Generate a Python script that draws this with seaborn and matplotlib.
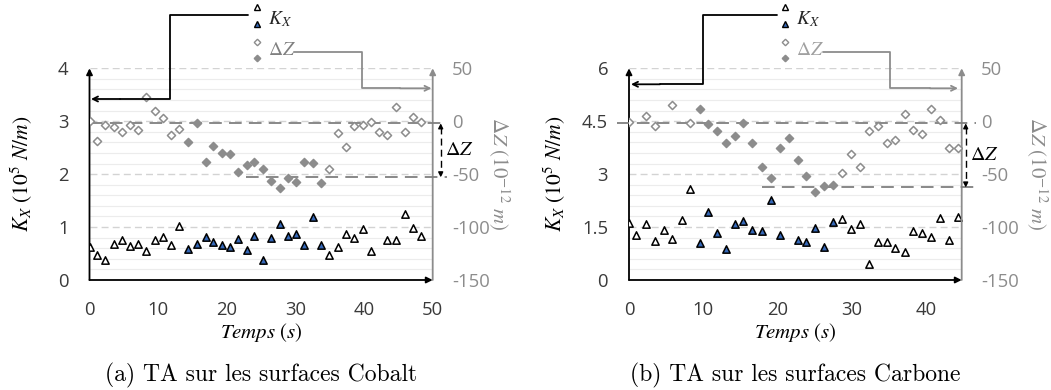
import numpy as np
import pandas as pd
import matplotlib
matplotlib.use("Agg")
import matplotlib.pyplot as plt
from matplotlib.lines import Line2D
from matplotlib.patches import FancyArrowPatch
from matplotlib.ticker import MultipleLocator
from matplotlib.transforms import Affine2D
import seaborn as sns

# ---------------- data ----------------
time_cobalt = [0, 1.1, 2.3, 3.5, 4.7, 5.9, 7.1, 8.3, 9.5, 10.7, 11.9, 13.1, 14.3, 15.6,
               16.9, 18.0, 19.3, 20.5, 21.7, 22.9, 24.0, 25.3, 26.5, 27.7, 28.9, 30.1,
               31.3, 32.6, 33.7, 34.9, 36.2, 37.4, 38.6, 39.8, 41.0, 42.2, 43.4, 44.6,
               45.9, 47.1, 48.3]
kx_cobalt = [0.63, 0.47, 0.38, 0.68, 0.76, 0.65, 0.68, 0.55, 0.76, 0.82, 0.66, 1.02,
             0.59, 0.68, 0.81, 0.71, 0.66, 0.63, 0.77, 0.57, 0.84, 0.38, 0.79, 1.05,
             0.84, 0.87, 0.66, 1.19, 0.66, 0.48, 0.62, 0.87, 0.80, 0.97, 0.54, np.nan,
             0.76, 0.76, 1.24, 0.99, 0.84]
dz_cobalt = [0, -19, -4, -5, -10, -4, -8.5, 22.6, 9.5, 3, -13, -7.5, -20, -2, -38.5,
             -23, -30, -31, -47.5, -41, -38.5, -45, -56, -63, -53.6, -57.5, -38.5,
             -39.7, -58, -45, -11, -24, -4.7, -3.2, -0.7, -10, -12.6, 13.5, -10, 3.8, -0.7]
active_cobalt = (12, 28)          # index range of the filled markers
dz_ref_cobalt = [-2, -53]          # reference levels (ΔZ)
ref_start_cobalt = [0, 22.8]

time_carbone = [0, 1.0, 2.3, 3.5, 4.7, 5.8, 7.1, 8.2, 9.5, 10.6, 11.8, 13.1, 14.3,
                15.4, 16.6, 17.9, 19.1, 20.4, 21.5, 22.7, 23.9, 25.1, 26.2, 27.5,
                28.7, 29.9, 31.1, 32.3, 33.5, 34.7, 35.8, 37.1, 38.2, 39.4, 40.6,
                41.9, 43.1, 44.3]
kx_carbone = [1.62, 1.27, 1.58, 1.10, 1.43, 1.15, 1.70, 2.58, 1.06, 1.92, 1.34, 0.87,
              1.59, 1.68, 1.42, 1.39, 2.26, 1.27, np.nan, 1.13, 1.08, 1.48, 0.94, 1.63,
              1.72, 1.44, 1.58, 0.44, 1.07, 1.08, 0.92, 0.78, 1.38, 1.34, 1.23, 1.77,
              1.14, 1.79]
dz_carbone = [-0.7, np.nan, 5, -4.5, np.nan, 15.8, np.nan, -1.6, 11.6, -2.8, -9.4, -21,
              -13.5, -1.6, -21, -43.4, -53.8, -25, -16.3, -37, -51.5, -67, -61.3, -60.4,
              -48.7, -30.9, -43.4, -9.7, -4.7, -21, -18, 6.6, -8.4, -12.3, 11.6, 1,
              -25, -25]
active_carbone = (8, 23)
dz_ref_carbone = [-2, -62.6]
ref_start_carbone = [-1.6, 17.9]

xticks_cobalt = [0, 10, 20, 30, 40, 50]
xticks_carbone = [0, 10, 20, 30, 40]
yticks_cobalt = [0, 1, 2, 3, 4]
ylabels_cobalt = ['0', '1', '2', '3', '4']
yticks_carbone = [0, 1.5, 3, 4.5, 6]
ylabels_carbone = ['0', '1.5', '3', '4.5', '6']
dz_ticks = [50, 0, -50, -100, -150]
dz_labels = ['50', '0', '-50', '-100', '-150']
captions = ['(a) TA sur les surfaces Cobalt', '(b) TA sur les surfaces Carbone']

# ---------------- style ----------------
sns.set_theme(style='white')
plt.rcParams['font.family'] = ['Open Sans', 'DejaVu Sans']
plt.rcParams['mathtext.fontset'] = 'stix'
plt.rcParams['axes.unicode_minus'] = False

BLUE = '#3568b8'
GRAY = '#8c8c8c'
DGRAY = '#7f7f7f'
TXT = '#3a3a3a'

W, H = 1051, 390
fig = plt.figure(figsize=(W / 100, H / 100), dpi=100)
pix = Affine2D().scale(1 / W, -1 / H).translate(0, 1) + fig.transFigure


def panel(left, right, t, kx, dz, active, dz_ref, ref_start, xmax, ymax, yticks,
          ylabels, yminor, xticks, arrow_px, ylab_x, dzlab_x, caption):
    top, bottom = 68.3, 280.0
    ax = fig.add_axes([left / W, 1 - bottom / H, (right - left) / W, (bottom - top) / H])
    tw = ax.twinx()
    ppu = (right - left) / xmax
    n = len(t)
    state = ['on' if active[0] <= i <= active[1] else 'off' for i in range(n)]
    df = pd.DataFrame({'t': t, 'kx': kx, 'dz': dz, 'state': state})
    off, on = df[df.state == 'off'], df[df.state == 'on']

    sns.scatterplot(data=off, x='t', y='kx', marker='^', s=28, color='white',
                    edgecolor='black', linewidth=1.1, ax=ax, zorder=4, legend=False)
    sns.scatterplot(data=on, x='t', y='kx', marker='^', s=28, color=BLUE,
                    edgecolor='black', linewidth=1.1, ax=ax, zorder=4, legend=False)
    sns.scatterplot(data=off, x='t', y='dz', marker='D', s=17, color='white',
                    edgecolor=GRAY, linewidth=1.1, ax=tw, zorder=4, legend=False)
    sns.scatterplot(data=on, x='t', y='dz', marker='D', s=17, color=GRAY,
                    edgecolor=GRAY, linewidth=1.1, ax=tw, zorder=4, legend=False)

    ax.set_xlim(0, xmax)
    ax.set_ylim(0, ymax)
    tw.set_ylim(-150, 50)
    ax.set_xticks(xticks)
    ax.set_xticklabels([str(v) for v in xticks])
    ax.set_yticks(yticks)
    ax.set_yticklabels(ylabels)
    ax.yaxis.set_minor_locator(MultipleLocator(yminor))
    tw.set_yticks(dz_ticks)
    tw.set_yticklabels(dz_labels)
    ax.tick_params(axis='both', which='both', length=0, labelsize=13.3, labelcolor=TXT)
    ax.tick_params(axis='y', pad=15)
    ax.tick_params(axis='x', pad=15)
    tw.tick_params(axis='y', length=0, labelsize=13.3, labelcolor=GRAY, pad=14)
    ax.grid(False)
    ax.grid(axis='y', which='minor', color='#ececec', lw=0.8, ls='-')
    ax.grid(axis='y', which='major', color='#d3d3d3', lw=1.0, ls=(0, (5, 3)))
    tw.grid(False)
    for a in (ax, tw):
        for s in a.spines.values():
            s.set_visible(False)
    ax.set_facecolor('none')

    # axes lines with arrows
    ax.annotate('', xy=(0, 1), xytext=(0, 0), xycoords='axes fraction',
                arrowprops=dict(arrowstyle='-|>', color='black', lw=1.3,
                                mutation_scale=9, shrinkA=0, shrinkB=0))
    ax.annotate('', xy=(1, 0), xytext=(0, 0), xycoords='axes fraction',
                arrowprops=dict(arrowstyle='-|>', color='black', lw=1.3,
                                mutation_scale=9, shrinkA=0, shrinkB=0))
    tw.annotate('', xy=(1, 1), xytext=(1, 0), xycoords='axes fraction',
                arrowprops=dict(arrowstyle='-|>', color=GRAY, lw=1.3,
                                mutation_scale=9, shrinkA=0, shrinkB=0))

    # reference dashed levels
    xend = xmax + 14 / ppu
    for lvl, xs in zip(dz_ref, ref_start):
        tw.plot([xs, xend], [lvl, lvl], color=DGRAY, lw=1.3, ls=(0, (7, 4)),
                clip_on=False, zorder=3)
    xa = xmax + arrow_px / ppu
    tw.plot([xa, xa], [dz_ref[0] - 3, dz_ref[1] + 3], color='black', lw=1.0,
            ls=(0, (5, 3)), clip_on=False)
    tw.annotate('', xy=(xa, dz_ref[0]), xytext=(xa, dz_ref[0] - 4),
                arrowprops=dict(arrowstyle='-|>', color='black', lw=1.0,
                                mutation_scale=7, shrinkA=0, shrinkB=0),
                annotation_clip=False)
    tw.annotate('', xy=(xa, dz_ref[1]), xytext=(xa, dz_ref[1] + 4),
                arrowprops=dict(arrowstyle='-|>', color='black', lw=1.0,
                                mutation_scale=7, shrinkA=0, shrinkB=0),
                annotation_clip=False)
    tw.text(xa + 4 / ppu, (dz_ref[0] + dz_ref[1]) / 2, r'$\Delta Z$', fontsize=14.5,
            ha='left', va='center', color='black', clip_on=False)

    # labels
    ax.set_xlabel(r'$Temps\ (s)$', fontsize=15, color='black')
    ax.xaxis.set_label_coords(0.5, (280 - 332) / (bottom - top))
    ax.xaxis.label.set_va('center')
    ax.set_ylabel(r'$K_X\ (10^5\ N/m)$', fontsize=15.5, color='black')
    ax.yaxis.set_label_coords((ylab_x - left) / (right - left), 0.5)
    ax.yaxis.label.set_va('center')
    tw.set_ylabel(r'$\Delta Z\ (10^{-12}\ m)$', fontsize=15, color=GRAY, rotation=-90)
    tw.yaxis.set_label_coords((dzlab_x - left) / (right - left), 0.5)
    tw.yaxis.label.set_va('center')
    fig.text(((left + right) / 2) / W, 1 - 375 / H, caption, fontsize=17,
             family='cmr10', ha='center', va='center', color='black')
    return ax, tw


panel(89.5, 432.7, time_cobalt, kx_cobalt, dz_cobalt, active_cobalt, dz_ref_cobalt,
      ref_start_cobalt, 50, 4, yticks_cobalt, ylabels_cobalt, 0.2, xticks_cobalt,
      8, 22, 499, captions[0])
panel(629, 961.7, time_carbone, kx_carbone, dz_carbone, active_carbone, dz_ref_carbone,
      ref_start_carbone, 44.8, 6, yticks_carbone, ylabels_carbone, 0.3, xticks_carbone,
      4, 555, 1037, captions[1])


# ---------------- legend callouts (figure pixel coordinates) ----------------
def callout(mx, k_path, k_end, d_path, d_end, dcolor):
    fig.add_artist(Line2D([mx], [7.3], marker='^', ms=4.5, mfc='white', mec='black',
                          mew=1.0, ls='none', transform=pix))
    fig.add_artist(Line2D([mx], [24], marker='^', ms=4.5, mfc=BLUE, mec='black',
                          mew=1.0, ls='none', transform=pix))
    fig.add_artist(Line2D([mx], [41.7], marker='D', ms=3.3, mfc='white', mec=GRAY,
                          mew=1.0, ls='none', transform=pix))
    fig.add_artist(Line2D([mx], [58.3], marker='D', ms=3.3, mfc=GRAY, mec=GRAY,
                          mew=1.0, ls='none', transform=pix))
    fig.text((mx + 11) / W, 1 - 19 / H, r'$K_X$', fontsize=14, ha='left', va='center')
    fig.text((mx + 11) / W, 1 - 50 / H, r'$\Delta Z$', fontsize=14, ha='left',
             va='center', color=dcolor)
    xs, ys = zip(*k_path)
    fig.add_artist(Line2D(xs, ys, color='black', lw=1.3, transform=pix))
    fig.add_artist(FancyArrowPatch(k_path[-1], k_end, transform=pix, arrowstyle='->',
                                   color='black', lw=1.3, mutation_scale=9,
                                   shrinkA=0, shrinkB=0))
    xs, ys = zip(*d_path)
    fig.add_artist(Line2D(xs, ys, color=GRAY, lw=1.3, transform=pix))
    fig.add_artist(FancyArrowPatch(d_path[-1], d_end, transform=pix, arrowstyle='->',
                                   color=GRAY, lw=1.3, mutation_scale=9,
                                   shrinkA=0, shrinkB=0))


callout(256.7, [(248, 15), (170, 15), (170, 99), (120, 99)], (91, 99),
        [(294, 51.7), (361.7, 51.7), (361.7, 88.3), (400, 88.3)], (431.5, 88.3), '#808080')
callout(785, [(777, 15), (703.3, 15), (703.3, 84.3), (660, 84.3)], (631, 84.3),
        [(823, 51.7), (890, 51.7), (890, 88.3), (930, 88.3)], (958, 88.3), '#a0a0a0')

fig.savefig('out.png', dpi=100)
